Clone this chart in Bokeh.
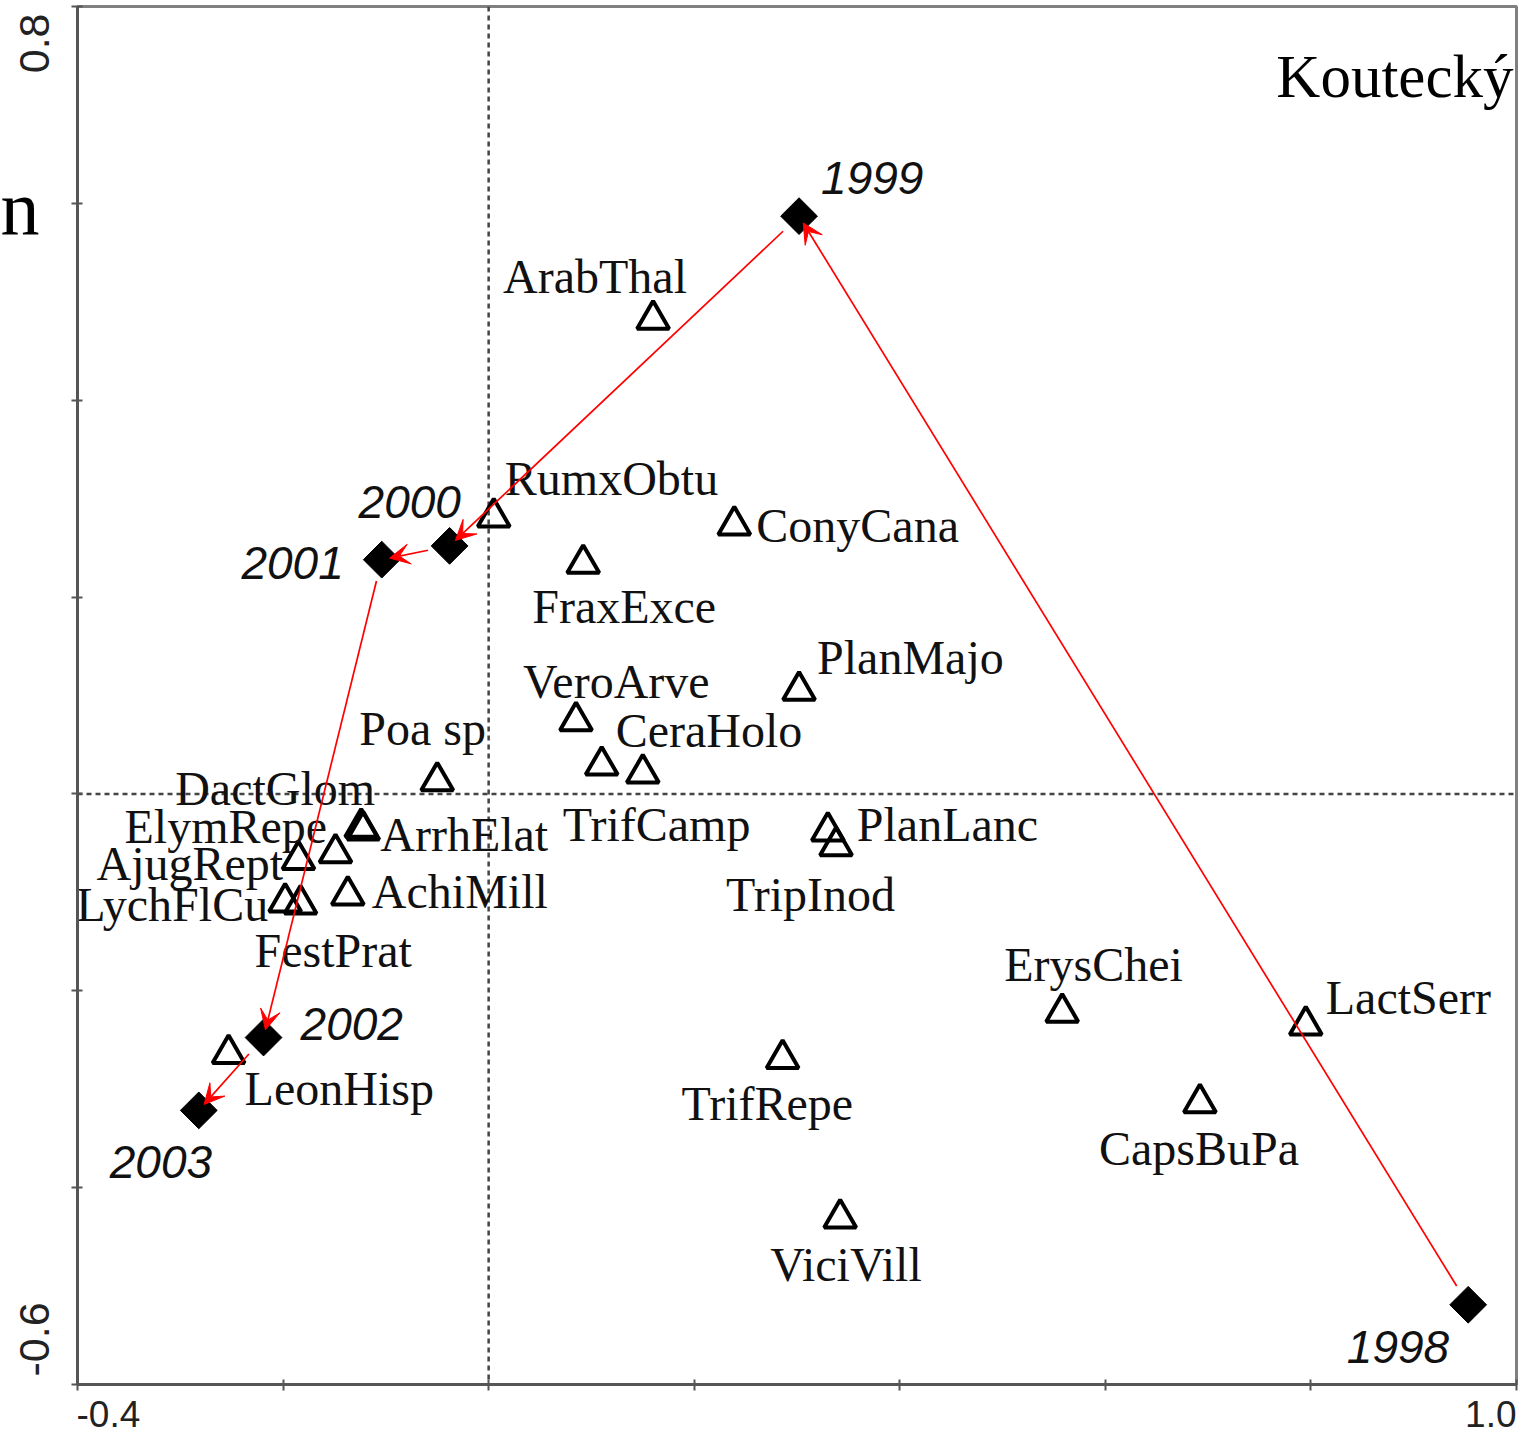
import math
from bokeh.plotting import figure
from bokeh.layouts import row, column
from bokeh.models import ColumnDataSource, Span, Arrow, VeeHead, FixedTicker, Range1d
from bokeh.embed import file_html
from bokeh.resources import INLINE
from bokeh.core.properties import value

# ---------------- data ----------------
years = ["1998", "1999", "2000", "2001", "2002", "2003"]
year_x = [0.953, 0.302, -0.038, -0.104, -0.219, -0.282]
year_y = [-0.519, 0.587, 0.252, 0.238, -0.2475, -0.3215]

species = ["ArabThal", "RumxObtu", "ConyCana", "FraxExce", "PlanMajo", "VeroArve",
           "CeraHolo", "TrifCamp", "Poa sp", "DactGlom", "ArrhElat", "ElymRepe",
           "AjugRept", "AchiMill", "LychFlCu", "FestPrat", "PlanLanc", "TripInod",
           "ErysChei", "LactSerr", "TrifRepe", "CapsBuPa", "ViciVill", "LeonHisp"]
species_x = [0.160, 0.005, 0.239, 0.092, 0.302, 0.085,
             0.110, 0.150, -0.050, -0.124, -0.122, -0.149,
             -0.185, -0.137, -0.198, -0.183, 0.330, 0.338,
             0.558, 0.795, 0.286, 0.692, 0.342, -0.253]
species_y = [0.482, 0.281, 0.273, 0.234, 0.105, 0.074,
             0.029, 0.021, 0.013, -0.034, -0.037, -0.060,
             -0.067, -0.103, -0.110, -0.112, -0.038, -0.053,
             -0.222, -0.235, -0.269, -0.314, -0.431, -0.264]

x_ticks = [-0.4, -0.2, 0.0, 0.2, 0.4, 0.6, 0.8, 1.0]
y_ticks = [-0.6, -0.4, -0.2, 0.0, 0.2, 0.4, 0.6, 0.8]
x_end_labels = ["-0.4", "1.0"]
y_end_labels = ["0.8", "-0.6"]
site_name = "Koutecký"
stray_text = "n"

# ---------------- label placement (screen px, y down) ----------------
sp_dx = [-150, 11, 22, -51, 18, -53, 14, -80, -78, -186, 17, -211,
         -202, 24, -209, -46, 29, -110, -58, 20, -101, -101, -70, 16]
sp_dy = [-43, -39, 0, 43, -33, -40, -35, 51, -53, -39, 4, -26,
         4, -4, 2, 46, -7, 48, -48, -28, 45, 46, 46, 35]
yr_dx = [-19, 22, -91, -38, 37, -89]
yr_dy = [42, -38, -44, 3, -14, 52]
yr_align = ["right", "left", "left", "right", "left", "left"]

# ---------------- layout ----------------
LEFT_W = 65
MAIN_W, MAIN_H = 1453, 1392
BOT_H = 42
BL, BR, BT, BB = 12, 2, 6, 8
X0, X1 = -0.4, 1.0
Y0, Y1 = -0.6, 0.8
FW, FH = MAIN_W - BL - BR, MAIN_H - BT - BB
pxu_x = FW / (X1 - X0)
pxu_y = FH / (Y1 - Y0)

xr = Range1d(X0, X1)
yr = Range1d(Y0, Y1)

p = figure(width=MAIN_W, height=MAIN_H, output_backend="svg", toolbar_location=None,
           x_range=xr, y_range=yr,
           min_border_left=BL, min_border_right=BR, min_border_top=BT, min_border_bottom=BB)
p.grid.visible = False
p.outline_line_color = "#808080"
p.outline_line_width = 3
p.background_fill_color = "white"
p.border_fill_color = "white"

for ax, ticks in ((p.xaxis, x_ticks), (p.yaxis, y_ticks)):
    ax.ticker = FixedTicker(ticks=ticks)
    ax.major_label_overrides = {t: "" for t in ticks}
    ax.major_label_text_font_size = "1px"
    ax.major_label_standoff = 0
    ax.axis_line_color = "#555555"
    ax.axis_line_width = 3
    ax.major_tick_line_color = "#555555"
    ax.major_tick_line_width = 2
    ax.major_tick_in = 5
    ax.major_tick_out = 6
    ax.minor_tick_line_color = None

# zero lines
for dim in ("height", "width"):
    p.add_layout(Span(location=0, dimension=dim, line_color="#444444",
                      line_width=2.5, line_dash="5 4", level="underlay"))

# species triangles
ssrc = ColumnDataSource(dict(x=species_x, y=species_y, name=species, dx=sp_dx, dy=sp_dy))
p.scatter("x", "y", source=ssrc, marker="triangle", size=32, fill_color=None,
          line_color="black", line_width=4)
p.text("x", "y", text="name", source=ssrc, x_offset="dx", y_offset="dy",
       text_font=value("Liberation Serif"), text_font_size="48px",
       text_align="left", text_baseline="middle", text_color="#111111")

# arrows between consecutive years
start_gap, end_gap = 22.0, 8.0
ax0, ay0, ax1, ay1 = [], [], [], []
for i in range(len(years) - 1):
    xa, ya, xb, yb = year_x[i], year_y[i], year_x[i + 1], year_y[i + 1]
    dxp, dyp = (xb - xa) * pxu_x, (yb - ya) * pxu_y
    L = math.hypot(dxp, dyp)
    ux, uy = dxp / L, dyp / L
    ax0.append(xa + ux * start_gap / pxu_x)
    ay0.append(ya + uy * start_gap / pxu_y)
    ax1.append(xb - ux * end_gap / pxu_x)
    ay1.append(yb - uy * end_gap / pxu_y)
asrc = ColumnDataSource(dict(x0=ax0, y0=ay0, x1=ax1, y1=ay1))

# year diamonds
ysrc = ColumnDataSource(dict(x=year_x, y=year_y, name=years, dx=yr_dx, dy=yr_dy, al=yr_align))
p.scatter("x", "y", source=ysrc, marker="square", angle=math.pi / 4, size=26,
          fill_color="black", line_color="black")
p.add_layout(Arrow(source=asrc, x_start="x0", y_start="y0", x_end="x1", y_end="y1",
                   line_color="red", line_width=1.7,
                   end=VeeHead(size=20, fill_color="red", line_color="red", line_width=1)))
p.text("x", "y", text="name", source=ysrc, x_offset="dx", y_offset="dy",
       text_font=value("Liberation Sans"), text_font_style="italic", text_font_size="46px",
       text_align="al", text_baseline="middle", text_color="#111111")

# site name
p.text(x=[X1], y=[Y1], text=[site_name], x_offset=-3, y_offset=70,
       text_font=value("Liberation Serif"), text_font_size="61px",
       text_align="right", text_baseline="alphabetic", text_color="black")

# ---------------- left strip: vertical end tick labels ----------------
left = figure(width=LEFT_W, height=MAIN_H, output_backend="svg", toolbar_location=None,
              x_range=Range1d(0, LEFT_W), y_range=yr,
              x_axis_location=None, y_axis_location=None,
              min_border_left=0, min_border_right=0, min_border_top=BT, min_border_bottom=BB)
left.grid.visible = False
left.outline_line_color = None
left.text(x=[34, 34], y=[Y1, Y0], text=y_end_labels, y_offset=[7, -8],
          angle=math.pi / 2, text_align=["right", "left"], text_baseline="middle",
          text_font=value("Liberation Sans"), text_font_size="43px", text_color="#222222")
left.text(x=[0], y=[y_ticks[-2]], text=[stray_text], y_offset=5,
          text_align="left", text_baseline="alphabetic",
          text_font=value("Liberation Serif"), text_font_size="78px", text_color="black")

# ---------------- bottom strip: end tick labels of x axis ----------------
bottom = figure(width=MAIN_W, height=BOT_H, output_backend="svg", toolbar_location=None,
                x_range=xr, y_range=Range1d(0, BOT_H),
                x_axis_location=None, y_axis_location=None,
                min_border_left=BL, min_border_right=BR, min_border_top=0, min_border_bottom=0)
bottom.grid.visible = False
bottom.outline_line_color = None
bottom.text(x=[X0, X1], y=[BOT_H / 2, BOT_H / 2], text=x_end_labels, x_offset=[-1, 0],
            text_align=["left", "right"], text_baseline="middle",
            text_font=value("Liberation Sans"), text_font_size="37px", text_color="#222222")

layout = row(left, column(p, bottom, spacing=0), spacing=0)
open("out.html", "w").write(file_html(layout, INLINE))
